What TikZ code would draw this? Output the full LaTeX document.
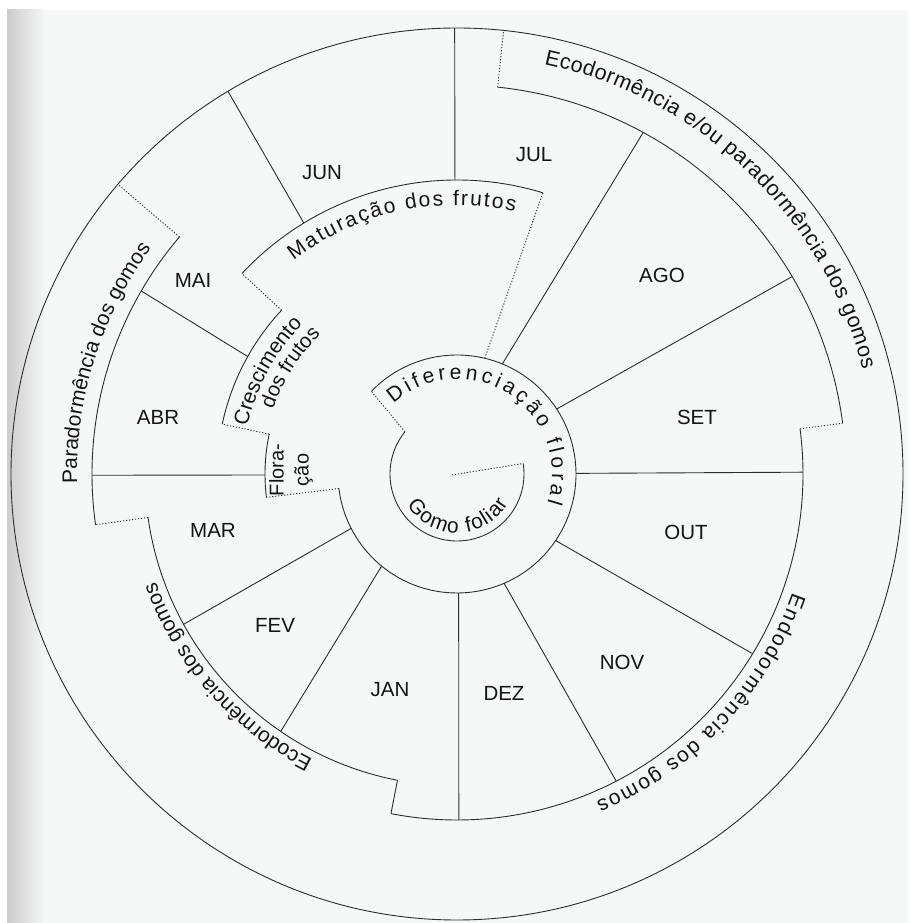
\documentclass[tikz,border=0pt]{standalone}
\usepackage{fontspec}
\setmainfont{Liberation Sans}
\usetikzlibrary{decorations.text,calc}
\definecolor{bg}{RGB}{246,247,247}
\definecolor{ink}{RGB}{45,45,45}
\tikzset{
  ring/.style={draw=ink,line width=0.9pt},
  dots/.style={draw=ink,line width=0.9pt,dash pattern=on 1.2pt off 1.8pt},
  month/.style={font=\fontsize{20.5}{24}\selectfont,inner sep=0pt,text=black!92},
}
% radius, start, end, align, size, text
\newcommand{\arctxt}[6]{%
  \path[decorate,decoration={text along path,text align=#4,text color=black!92,
    text={|\fontsize{#5}{#5}\selectfont|#6}}]
    ($(C)+(#2:#1)$) arc[start angle=#2,end angle=#3,radius=#1];}
\begin{document}
\begin{tikzpicture}[x=1pt,y=1pt]
\useasboundingbox (0,0) rectangle (908,923);
\fill[white] (0,0) rectangle (908,923);
\fill[bg] (7,0) rectangle (908,913);
\shade[left color=black!20,right color=bg] (7,0) rectangle (45,913);
\coordinate (C) at (457,449);
% outer circle
\draw[ring] (C) circle[radius=446];
% band boundaries
\draw[ring] ($(C)+(84:389)$) arc[start angle=84,end angle=7.5,radius=389];
\draw[ring] ($(C)+(7.5:346)$) arc[start angle=7.5,end angle=-101,radius=346];
\draw[ring] ($(C)+(-101:312)$) arc[start angle=-101,end angle=-172,radius=312];
\draw[ring] ($(C)+(188:365)$) arc[start angle=188,end angle=139.5,radius=365];
\draw[ring] ($(C)+(137:294)$) arc[start angle=137,end angle=73,radius=294];
\draw[ring] ($(C)+(137:240)$) arc[start angle=137,end angle=168,radius=240];
\draw[ring] ($(C)+(168:192)$) arc[start angle=168,end angle=187,radius=192];
\draw[ring] ($(C)+(136:119)$) arc[start angle=136,end angle=-173,radius=119];
\draw[ring] ($(C)+(141:67)$) arc[start angle=141,end angle=369,radius=67];
% phase limits
\draw[dots] ($(C)+(84:389)$) -- ($(C)+(84:446)$);
\draw[dots] ($(C)+(7.5:346)$) -- ($(C)+(7.5:389)$);
\draw[ring] ($(C)+(-101:312)$) -- ($(C)+(-101:346)$);
\draw[dots] ($(C)+(-172:312)$) -- ($(C)+(-172:365)$);
\draw[dots] ($(C)+(139.5:365)$) -- ($(C)+(139.5:446)$);
\draw[dots] ($(C)+(137:240)$) -- ($(C)+(137:294)$);
\draw[dots] ($(C)+(76.5:119)$) -- ($(C)+(73:294)$);
\draw[dots] ($(C)+(168:192)$) -- ($(C)+(168:240)$);
\draw[dots] ($(C)+(187:119)$) -- ($(C)+(187:192)$);
\draw[dots] ($(C)+(141:67)$) -- ($(C)+(136:119)$);
\draw[dots] ($(C)+(-5,-1)$) -- ($(C)+(9:67)$);
% month limits
\foreach \ai/\ri/\ao/\ro in {90.4/294/90.3/446, 121.4/294/120.9/446, 150.7/240/149.9/365,
  180.3/192/180.2/365, 207.2/119/208.8/312, 230.7/119/235.6/312, 270.8/119/270.3/346,
  293.3/119/297.4/346, 326/119/328.7/346, 0.3/119/0.3/346, 33.1/119/30.5/389, 67.6/119/61.4/389}
  \draw[ring] ($(C)+(\ai:\ri)$) -- ($(C)+(\ao:\ro)$);
% months
\node[month] (jun) at (322,750) {JUN};
\node[month] (jul) at (534,768) {JUL};
\node[month] (ago) at (662,648) {AGO};
\node[month] (set) at (697,506) {SET};
\node[month] (out) at (686,391) {OUT};
\node[month] (nov) at (622,261) {NOV};
\node[month] (dez) at (504,230) {DEZ};
\node[month] (jan) at (390,233) {JAN};
\node[month] (fev) at (275,298) {FEV};
\node[month] (mar) at (213,393) {MAR};
\node[month] (abr) at (158,506) {ABR};
\node[month] (mai) at (193,643) {MAI};
\node[month,rotate=90,align=center,font=\fontsize{20}{25}\selectfont] (flo) at (291,453) {Flora-\\ção};
% arc labels
\arctxt{419}{78}{14.5}{fit to path}{21.5}{Ecodormência e/ou paradormência dos gomos}
\arctxt{356}{-19.5}{-67}{fit to path}{21}{Endodormência dos gomos}
\arctxt{320}{260}{183}{center}{21}{Ecodormência dos gomos}
\arctxt{380}{185}{140}{center}{21}{Paradormência dos gomos}
\arctxt{269}{127.4}{77.6}{fit to path}{21}{Maturação dos frutos}
\arctxt{215}{175}{128}{center}{21}{Crescimento}
\arctxt{195}{170}{125}{center}{20.5}{dos frutos}
\arctxt{95}{132}{-18}{fit to path}{21}{Diferenciação floral}
\arctxt{59}{212}{330}{fit to path}{21}{Gomo foliar}
\end{tikzpicture}
\end{document}
